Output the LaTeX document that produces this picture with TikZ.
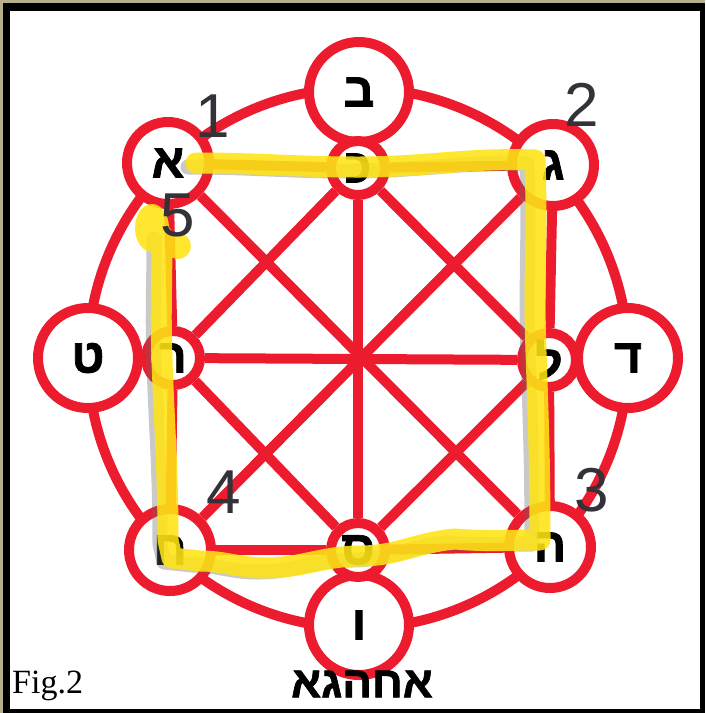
\documentclass[tikz,border=0pt]{standalone}
\usepackage{fontspec}
\setmainfont{Liberation Serif}
\newfontfamily\hebfont[Script=Hebrew, FakeBold=1.5]{Liberation Sans}
\newfontfamily\numfont{Liberation Sans}
\TeXXeTstate=1
\definecolor{ringred}{RGB}{236,28,46}
\definecolor{hlyellow}{RGB}{255,228,20}
\definecolor{olivestrip}{RGB}{182,176,140}
\definecolor{numgray}{RGB}{50,50,56}
\pgfdeclarelayer{back}
\pgfdeclarelayer{lines}
\pgfsetlayers{back,lines,main}
\tikzset{
  outernode/.style={circle, draw=ringred, line width=10pt, fill=white, minimum size=100pt, inner sep=0pt,
    font=\hebfont\bfseries\fontsize{48}{48}\selectfont},
  cornernode/.style={outernode, minimum size=82pt},
  innernode/.style={outernode, minimum size=54pt},
  redline/.style={draw=ringred, line width=10pt},
  hlline/.style={draw=hlyellow, line width=21pt, line cap=round, line join=round},
  shadowline/.style={draw=black!60, line width=15pt, line cap=round, line join=round},
  numlabel/.style={inner sep=0pt, text=numgray, font=\numfont\fontsize{62}{62}\selectfont},
}
\begin{document}
\begin{tikzpicture}[x=1pt,y=-1pt]
\useasboundingbox (0,0) rectangle (705,713);
\begin{pgfonlayer}{back}
  \fill[black] (0,0) rectangle (705,713);
  \fill[olivestrip] (0,0) rectangle (705,3);
  \fill[olivestrip] (0,0) rectangle (3,713);
  \fill[white] (10,11) rectangle (700,709);
\end{pgfonlayer}

\coordinate (C) at (358,358);

% outer ring nodes
\node[outernode] (B) at (359,92) {\char"05D1};
\node[outernode] (D) at (628,358) {\char"05D3};
\node[outernode] (V) at (359,625) {\char"05D5};
\node[outernode] (T) at (88,358) {\char"05D8};
% corner nodes
\node[cornernode] (A) at (168,163) {\char"05D0};
\node[cornernode] (G) at (553,165) {\char"05D2};
\node[cornernode] (H) at (550,547) {\char"05D4};
\node[cornernode] (Ht) at (170,550) {\char"05D7};
% inner mid nodes
\node[innernode] (K) at (358,168) {\char"05DB};
\node[innernode] (L) at (549,360) {\char"05DC};
\node[innernode] (S) at (358,550) {\char"05E1};
\node[innernode] (R) at (173,358) {\char"05E8};

\begin{pgfonlayer}{lines}
  \draw[redline] (C) circle (270pt);
  \draw[redline] (A) -- (H);
  \draw[redline] (G) -- (Ht);
  \draw[redline] (K) -- (S);
  \draw[redline] (R) -- (L);
  \draw[redline] (K) -- (R);
  \draw[redline] (K) -- (L);
  \draw[redline] (S) -- (R);
  \draw[redline] (S) -- (L);
  \draw[redline] (A) -- (K);
  \draw[redline] (K) -- (G);
  \draw[redline] (G) -- (L);
  \draw[redline] (L) -- (H);
  \draw[redline] (H) -- (S);
  \draw[redline] (S) -- (Ht);
  \draw[redline] (Ht) -- (R);
  \draw[redline] (R) -- (A);
\end{pgfonlayer}

% shadow of the highlight
\begin{scope}[transparency group, opacity=0.35, shift={(-8,4)}]
  \draw[shadowline] (196,163) to[out=0,in=180] (358,167) to[out=0,in=178] (535,160)
    to[out=-88,in=92] (536,352) to[out=-88,in=90] (540,540)
    to[out=180,in=-5] (455,539) to[out=185,in=0] (360,556) to[out=180,in=0] (265,568)
    to[out=180,in=0] (200,561) -- (172,558) -- (168,540)
    to[out=90,in=-88] (162,360) to[out=92,in=-90] (162,235);
\end{scope}

% yellow highlight
\begin{scope}[transparency group, opacity=0.88]
  \draw[hlline] (196,163) to[out=0,in=180] (358,167) to[out=0,in=178] (535,160)
    to[out=-88,in=92] (536,352) to[out=-88,in=90] (540,540)
    to[out=180,in=-5] (455,539) to[out=185,in=0] (360,556) to[out=180,in=0] (265,568)
    to[out=180,in=0] (200,561) -- (172,558) -- (168,540)
    to[out=90,in=-88] (162,360) to[out=92,in=-90] (162,235);
  \fill[hlyellow] (152,228) ellipse (17pt and 24pt);
  \fill[hlyellow] (178,246) circle (13pt);
\end{scope}

% step numbers
\node[numlabel] (n1) at (213,116) {1};
\node[numlabel] (n2) at (582,105) {2};
\node[numlabel] (n3) at (592,490) {3};
\node[numlabel] (n4) at (224,492) {4};
\node[numlabel] (n5) at (178,215) {5};

% captions
\node[inner sep=0pt, anchor=base west, font=\fontsize{34}{34}\selectfont] (fig) at (12,693) {Fig.2};
\node[inner sep=0pt, font=\hebfont\bfseries\fontsize{44}{44}\selectfont] (word) at (362,684)
  {\beginR\char"05D0\char"05D7\char"05D4\char"05D2\char"05D0\endR};
\end{tikzpicture}
\end{document}
